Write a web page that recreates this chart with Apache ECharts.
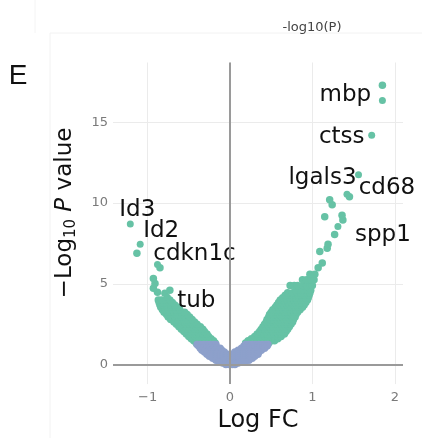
<!DOCTYPE html>
<html><head><meta charset="utf-8">
<script src="https://cdn.jsdelivr.net/npm/echarts@6/dist/echarts.min.js"></script>
<style>html,body{margin:0;padding:0;background:#fff}#c{width:422px;height:438px}</style>
</head><body><div id="c"></div>
<script>
// Tick labels
const xTicks = [-1, 0, 1, 2];
const yTicks = [0, 5, 10, 15];

// Significant (green) points, right branch, rows of [-log10 P, [logFC...]]
const greenRightRows = [
  [1.35, [0.19,0.23,0.27,0.31,0.35,0.39,0.43,0.47]],
  [1.48, [0.22,0.26,0.30,0.34,0.38,0.42,0.46,0.50,0.54]],
  [1.6,  [0.26,0.30,0.34,0.38,0.42,0.46,0.50,0.54,0.58]],
  [1.75, [0.30,0.34,0.38,0.42,0.46,0.50,0.54,0.58,0.62]],
  [1.9,  [0.33,0.37,0.41,0.45,0.49,0.53,0.58,0.62,0.66]],
  [2.05, [0.36,0.40,0.44,0.48,0.52,0.56,0.60,0.64,0.68]],
  [2.2,  [0.38,0.42,0.46,0.50,0.54,0.58,0.62,0.66,0.70]],
  [2.35, [0.40,0.44,0.48,0.52,0.56,0.60,0.64,0.68,0.72]],
  [2.5,  [0.42,0.46,0.50,0.54,0.58,0.62,0.66,0.70,0.74]],
  [2.65, [0.44,0.48,0.52,0.56,0.60,0.64,0.68,0.72,0.76]],
  [2.8,  [0.45,0.49,0.53,0.57,0.61,0.65,0.69,0.73,0.77]],
  [2.95, [0.47,0.51,0.55,0.59,0.63,0.67,0.71,0.75,0.79]],
  [3.1,  [0.48,0.52,0.56,0.60,0.64,0.68,0.72,0.76,0.80]],
  [3.25, [0.50,0.54,0.58,0.62,0.66,0.70,0.74,0.78,0.82]],
  [3.4,  [0.52,0.56,0.60,0.64,0.68,0.72,0.76,0.80,0.85]],
  [3.55, [0.55,0.59,0.63,0.67,0.71,0.75,0.79,0.83,0.88]],
  [3.7,  [0.57,0.61,0.65,0.69,0.73,0.77,0.81,0.86,0.90]],
  [3.85, [0.59,0.63,0.67,0.71,0.75,0.79,0.83,0.87,0.92]],
  [4.0,  [0.61,0.65,0.69,0.73,0.77,0.81,0.85,0.89,0.94]],
  [4.15, [0.64,0.68,0.72,0.76,0.80,0.84,0.88,0.92,0.95]],
  [4.3,  [0.67,0.71,0.75,0.79,0.83,0.87,0.91,0.96]],
  [4.45, [0.70,0.76,0.82,0.86,0.90,0.94,0.97]],
  [4.6,  [0.80,0.86,0.90,0.94,0.98]],
  [4.9,  [0.73,0.78,0.82,0.89,0.93,0.97,1.00]],
  [5.25, [0.88,0.93,0.98,1.02]],
  [5.6,  [0.97,1.03]],
  [6.0,  [1.07]],
  [6.3,  [1.12]]
];
// Significant (green) points, left branch
const greenLeftRows = [
  [1.35, [-0.41,-0.37,-0.33,-0.29,-0.25,-0.21,-0.18]],
  [1.48, [-0.44,-0.40,-0.36,-0.32,-0.28,-0.24,-0.20]],
  [1.6,  [-0.47,-0.43,-0.39,-0.35,-0.31,-0.27,-0.23]],
  [1.75, [-0.50,-0.46,-0.42,-0.38,-0.34,-0.30,-0.26]],
  [1.9,  [-0.53,-0.49,-0.45,-0.41,-0.37,-0.33,-0.28]],
  [2.05, [-0.56,-0.52,-0.48,-0.44,-0.40,-0.35,-0.31]],
  [2.2,  [-0.59,-0.55,-0.51,-0.47,-0.43,-0.38,-0.33]],
  [2.35, [-0.62,-0.58,-0.54,-0.50,-0.46,-0.41,-0.36]],
  [2.5,  [-0.65,-0.61,-0.57,-0.53,-0.49,-0.45,-0.40]],
  [2.65, [-0.68,-0.64,-0.60,-0.56,-0.52,-0.48,-0.43]],
  [2.8,  [-0.72,-0.68,-0.64,-0.60,-0.56,-0.51,-0.46]],
  [2.95, [-0.75,-0.71,-0.67,-0.63,-0.59,-0.54,-0.49]],
  [3.1,  [-0.77,-0.73,-0.69,-0.65,-0.61,-0.56,-0.52]],
  [3.25, [-0.80,-0.76,-0.72,-0.68,-0.64,-0.59,-0.55]],
  [3.4,  [-0.82,-0.78,-0.74,-0.70,-0.66,-0.61]],
  [3.55, [-0.84,-0.80,-0.76,-0.71,-0.66,-0.62]],
  [3.7,  [-0.85,-0.81,-0.77,-0.72,-0.67]],
  [3.85, [-0.86,-0.82,-0.78,-0.74,-0.70]],
  [4.0,  [-0.87,-0.83,-0.78,-0.73]]
];
// Isolated significant points [logFC, -log10 P]
const greenSparse = [
  [-0.79,4.42],[-0.73,4.6],[-0.88,4.48],[-0.93,4.73],[-0.91,5.03],[-0.93,5.33],
  [-0.85,6.0],[-1.13,6.9],
  [1.09,7.0],[1.18,7.2],[1.19,7.45],[1.27,8.05],[1.37,8.95],[1.36,9.25],[1.15,9.15],
  [1.24,9.9],[1.21,10.2],[1.45,10.4],[1.85,17.3]
];
// Non-significant (blue) points
const blueRows = [
  [1.25, [-0.40,-0.36,-0.32,-0.28,-0.24,-0.20,-0.17,0.19,0.23,0.27,0.31,0.35,0.39,0.43,0.46]],
  [1.15, [-0.38,-0.34,-0.30,-0.26,-0.22,-0.18,0.17,0.21,0.25,0.29,0.33,0.37,0.41,0.45]],
  [1.02, [-0.36,-0.32,-0.28,-0.24,-0.20,-0.16,-0.12,0.14,0.18,0.22,0.26,0.30,0.34,0.38,0.42]],
  [0.9,  [-0.34,-0.30,-0.26,-0.22,-0.18,-0.14,-0.10,0.10,0.14,0.18,0.22,0.26,0.30,0.34,0.38]],
  [0.78, [-0.31,-0.27,-0.23,-0.19,-0.15,-0.11,-0.07,0.06,0.10,0.14,0.18,0.22,0.26,0.30,0.35]],
  [0.65, [-0.28,-0.24,-0.20,-0.16,-0.12,-0.08,-0.03,0.03,0.07,0.11,0.15,0.19,0.23,0.27,0.31,0.34]],
  [0.52, [-0.25,-0.21,-0.17,-0.13,-0.09,-0.05,-0.01,0.03,0.07,0.11,0.15,0.19,0.23,0.27,0.30]],
  [0.4,  [-0.21,-0.17,-0.13,-0.09,-0.05,-0.01,0.03,0.07,0.11,0.15,0.19,0.23,0.27]],
  [0.28, [-0.17,-0.13,-0.09,-0.05,-0.01,0.03,0.07,0.11,0.15,0.19,0.23]],
  [0.18, [-0.13,-0.09,-0.05,-0.01,0.03,0.07,0.11,0.15,0.18]],
  [0.1,  [-0.09,-0.05,-0.01,0.03,0.07,0.10]],
  [0.02, [-0.05,-0.01,0.03,0.06]]
];
// Labelled genes
const genes  = ['mbp','ctss','lgals3','cd68','spp1','Id3','Id2','cdkn1c','tub'];
const geneFC = [1.85, 1.72, 1.56, 1.42, 1.31, -1.21, -1.09, -0.88, -0.76];
const geneP  = [16.35, 14.2, 11.75, 10.55, 8.55, 8.7, 7.45, 6.2, 4.18];

// label placement (style only)
const labelOffset = {
  mbp:[-37,-5], ctss:[-30,2], lgals3:[-36,3], cd68:[40,-6], spp1:[45,8],
  Id3:[7,-14], Id2:[21,-13], cdkn1c:[37,-10], tub:[29,4]
};

const rowsToPoints = rows => rows.flatMap(([y, xs]) => xs.map(x => [x, y]));
const greenPts = rowsToPoints(greenRightRows).concat(rowsToPoints(greenLeftRows), greenSparse);
const bluePts = rowsToPoints(blueRows);
const genePts = genes.map((g, i) => ({
  value: [geneFC[i], geneP[i]],
  name: g,
  label: { offset: labelOffset[g] }
}));

const GREEN = '#66c2a5', BLUE = '#8da0cb';
const FONT = 'DejaVu Sans';
const chart = echarts.init(document.getElementById('c'), null, {renderer: 'canvas'});
chart.setOption({
  animation: false,
  backgroundColor: '#fff',
  grid: { left: 113, right: 19, top: 62.5, bottom: 47.15, containLabel: false },
  xAxis: {
    type: 'value', min: -1.42, max: 2.1, splitNumber: 4,
    axisLine: { show: false }, axisTick: { show: false },
    axisLabel: {
      margin: 7, color: '#7a7a7a', fontSize: 13, fontFamily: FONT,
      formatter: v => xTicks.includes(v) ? (v < 0 ? '\u2212' + Math.abs(v) : String(v)) : ''
    },
    splitLine: { show: true, showMinLine: false, showMaxLine: false, lineStyle: { color: '#ebebeb', width: 1 } },
    name: 'Log FC', nameLocation: 'middle', nameGap: 22,
    nameTextStyle: { fontSize: 24, color: '#111', fontFamily: FONT, verticalAlign: 'top' }
  },
  yAxis: {
    type: 'value', min: -1.2, max: 18.7, splitNumber: 4,
    axisLine: { show: false }, axisTick: { show: false },
    axisLabel: {
      margin: 5, color: '#7a7a7a', fontSize: 13, fontFamily: FONT,
      formatter: v => yTicks.includes(v) ? String(v) : ''
    },
    splitLine: { show: true, showMinLine: false, showMaxLine: false, lineStyle: { color: '#ebebeb', width: 1 } }
  },
  graphic: [
    { type: 'line', silent: true, shape: { x1: 50, y1: 33, x2: 422, y2: 33 }, style: { stroke: '#f2f2f2', lineWidth: 1 } },
    { type: 'line', silent: true, shape: { x1: 50, y1: 33, x2: 50, y2: 438 }, style: { stroke: '#f2f2f2', lineWidth: 1 } },
    { type: 'line', silent: true, shape: { x1: 35, y1: 0, x2: 35, y2: 33 }, style: { stroke: '#f4f4f4', lineWidth: 1 } },
    { type: 'text', x: 18, y: 76, style: { text: 'E', fontSize: 28, fontFamily: 'Liberation Sans', fill: '#111', align: 'center', verticalAlign: 'middle' } },
    { type: 'text', x: 312, y: 28, style: { text: '-log10(P)', fontSize: 13, fontFamily: FONT, fill: '#444', align: 'center', verticalAlign: 'middle' } },
    { type: 'text', x: 65, y: 213, rotation: Math.PI / 2,
      style: {
        text: '{a|\u2212Log}{s|10}{p| P}{a| value}',
        align: 'center', verticalAlign: 'middle', fill: '#111',
        rich: {
          a: { fontSize: 23, fontFamily: FONT, fill: '#111' },
          s: { fontSize: 15, fontFamily: FONT, fill: '#111', padding: [12, 0, 0, 0] },
          p: { fontSize: 23, fontFamily: FONT, fontStyle: 'italic', fill: '#111' }
        }
      } }
  ],
  series: [
    {
      name: 'significant', type: 'scatter', symbolSize: 7.5, data: greenPts,
      itemStyle: { color: GREEN, opacity: 1 }, emphasis: { disabled: true }, silent: true
    },
    {
      name: 'not significant', type: 'scatter', symbolSize: 7.5, data: bluePts,
      itemStyle: { color: BLUE, opacity: 1 }, emphasis: { disabled: true }, silent: true,
      markLine: {
        silent: true, symbol: ['none', 'none'], animation: false,
        label: { show: false },
        lineStyle: { color: '#9a9a9a', width: 2, type: 'solid' },
        data: [{ xAxis: 0 }, { yAxis: 0 }]
      }
    },
    {
      name: 'genes', type: 'scatter', symbolSize: 7, data: genePts, z: 3,
      itemStyle: { color: GREEN, opacity: 1 }, emphasis: { disabled: true }, silent: true,
      label: {
        show: true, position: 'inside', formatter: p => p.name,
        align: 'center', verticalAlign: 'middle',
        fontSize: 23, fontFamily: FONT, color: '#111'
      }
    }
  ]
});
</script></body></html>
